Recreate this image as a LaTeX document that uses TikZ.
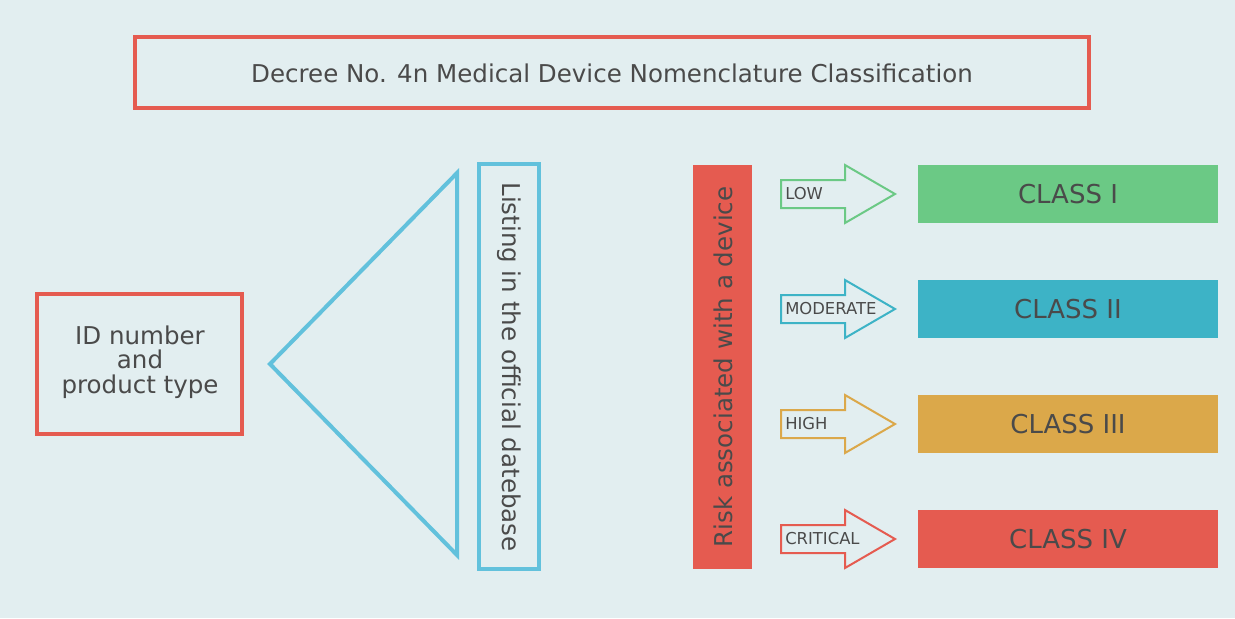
\documentclass[tikz,border=0pt]{standalone}
\usepackage{fontspec}
\setmainfont{DejaVu Sans}
\definecolor{bg}{HTML}{E2EEF0}
\definecolor{rd}{HTML}{E55B50}
\definecolor{bl}{HTML}{62C1DC}
\definecolor{gr}{HTML}{6BC985}
\definecolor{tl}{HTML}{3DB3C6}
\definecolor{gd}{HTML}{DBA84A}
\definecolor{tx}{HTML}{4A4A4A}
\begin{document}
\begin{tikzpicture}[x=0.75pt,y=-0.75pt,
  txt/.style={text=tx,font=\fontsize{18.4}{22}\selectfont},
  cls/.style={text=tx,font=\fontsize{19.5}{23}\selectfont,minimum width=225pt,minimum height=43.5pt,inner sep=0pt},
  lab/.style={text=tx,font=\fontsize{12.3}{14}\selectfont,anchor=west,inner sep=0pt},
  arr/.style={line width=1.5pt}]
\fill[bg] (0,0) rectangle (1235,618);
\useasboundingbox (0,0) rectangle (1235,618);
\draw[rd,line width=3pt] (135,37) rectangle (1089,108);
\node[txt] (title) at (612,73) {Decree No. 4n Medical Device Nomenclature Classification};
\draw[rd,line width=3pt] (37,294) rectangle (242,434);
\node[txt,align=center,font=\fontsize{18.4}{18.5}\selectfont] (id) at (140,362) {ID number\\and\\product type};
\draw[bl,line width=3pt,line join=miter] (457,173) -- (270,364) -- (457,555) -- cycle;
\draw[bl,line width=3pt] (479,164) rectangle (539,569);
\node[txt,rotate=-90] (list) at (509,367) {Listing in the official datebase};
\fill[rd] (693,165) rectangle (752,569);
\node[txt,rotate=90] (risk) at (723,367) {Risk associated with a device};
\foreach \c/\y/\l/\k/\n in {gr/194/LOW/CLASS I/a, tl/309/MODERATE/CLASS II/b, gd/424/HIGH/CLASS III/c, rd/539/CRITICAL/CLASS IV/d}{
  \draw[\c,arr] (781,\y-14) -- (845,\y-14) -- (845,\y-29) -- (895,\y) -- (845,\y+29) -- (845,\y+14) -- (781,\y+14) -- cycle;
  \node[lab] (l\n) at (785,\y) {\l};
  \node[cls,fill=\c] (k\n) at (1068,\y) {\k};
}
\end{tikzpicture}
\end{document}
